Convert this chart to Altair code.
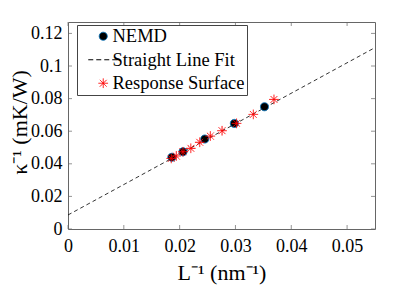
import altair as alt
import pandas as pd

# NEMD data
nemd_x = [0.0186, 0.0206, 0.0245, 0.0298, 0.0352]
nemd_y = [0.0440, 0.0474, 0.0552, 0.0648, 0.0750]
# Response surface data
rs_x = [0.0185, 0.0194, 0.0206, 0.0220, 0.0236, 0.0255, 0.0276, 0.0302, 0.0332, 0.0369]
rs_y = [0.0433, 0.0448, 0.0474, 0.0495, 0.0532, 0.0570, 0.0603, 0.0648, 0.0703, 0.0795]
# Straight line fit endpoints
fit_x = [0.0, 0.055]
fit_y = [0.0086, 0.1113]

x_ticks = [0, 0.01, 0.02, 0.03, 0.04, 0.05]
y_ticks = [0, 0.02, 0.04, 0.06, 0.08, 0.1, 0.12]

series = ["NEMD", "Straight Line Fit", "Response Surface"]
star = "M-1.2,0L1.2,0M0,-1.2L0,1.2M-0.85,-0.85L0.85,0.85M-0.85,0.85L0.85,-0.85"
line_sym = "M-3.75,0L3.75,0"

W, H = 307, 207
FONT = "Liberation Serif"
FRAME = "#666666"

pts = pd.DataFrame(
    {"x": nemd_x + rs_x, "y": nemd_y + rs_y,
     "s": ["NEMD"] * len(nemd_x) + ["Response Surface"] * len(rs_x)}
)
fit = pd.DataFrame({"x": fit_x, "y": fit_y})
xt = pd.DataFrame({"v": x_ticks})
yt = pd.DataFrame({"v": y_ticks})

xs = alt.Scale(domain=[0, 0.055], nice=False, zero=False)
ys = alt.Scale(domain=[0, 0.127], nice=False, zero=False)

common = dict(grid=False, ticks=False, domain=False,
              labelOverlap=False, labelFlush=False, labelBound=False,
              labelFont=FONT, labelFontSize=18, labelColor="black",
              titleFont=FONT, titleFontSize=22, titleFontWeight="normal", titleColor="black",
              titleBaseline="middle")
xaxis = alt.Axis(values=x_ticks, format="~g", labelPadding=8,
                 title="L⁻¹  (nm⁻¹)", titleY=43, **common)
yaxis = alt.Axis(values=y_ticks, format="~g", labelPadding=6,
                 title="κ⁻¹  (mK/W)", titleX=-49, titleY=100, **common)

line = alt.Chart(fit).mark_line(color="black", strokeDash=[4, 3], strokeWidth=0.8).encode(
    x=alt.X("x:Q", scale=xs, axis=xaxis),
    y=alt.Y("y:Q", scale=ys, axis=yaxis),
)

legend = alt.Legend(
    title=None, orient="none", legendX=9, legendY=3,
    strokeColor="#444444", fillColor="white", padding=2,
    labelFont=FONT, labelFontSize=18.5, labelColor="black", labelOffset=0,
    symbolOffset=15, symbolSize=64, symbolStrokeWidth=1, rowPadding=4.5, cornerRadius=0,
)

points = alt.Chart(pts).mark_point(size=64, strokeWidth=1, opacity=1).encode(
    x=alt.X("x:Q", scale=xs, axis=xaxis),
    y=alt.Y("y:Q", scale=ys, axis=yaxis),
    shape=alt.Shape("s:N", scale=alt.Scale(domain=series, range=["circle", line_sym, star]), legend=legend),
    fill=alt.Fill("s:N", scale=alt.Scale(domain=series, range=["black", "transparent", "transparent"]), legend=legend),
    stroke=alt.Stroke("s:N", scale=alt.Scale(domain=series, range=["#0072BD", "black", "red"]), legend=legend),
    strokeDash=alt.StrokeDash("s:N", scale=alt.Scale(domain=series, range=[[1, 0], [5, 3], [1, 0]]), legend=legend),
)

tick_style = dict(color=FRAME, thickness=1, size=4)
xb = alt.Chart(xt).mark_tick(orient="vertical", **tick_style).encode(
    x=alt.X("v:Q", scale=xs, axis=xaxis), y=alt.value(H - 2))
xtp = alt.Chart(xt).mark_tick(orient="vertical", **tick_style).encode(
    x=alt.X("v:Q", scale=xs, axis=xaxis), y=alt.value(2))
yl = alt.Chart(yt).mark_tick(orient="horizontal", **tick_style).encode(
    y=alt.Y("v:Q", scale=ys, axis=yaxis), x=alt.value(2))
yr = alt.Chart(yt).mark_tick(orient="horizontal", **tick_style).encode(
    y=alt.Y("v:Q", scale=ys, axis=yaxis), x=alt.value(W - 2))

chart = alt.layer(line, xb, xtp, yl, yr, points).properties(
    width=W, height=H, background="white",
    autosize=alt.AutoSizeParams(type="none"),
    padding={"left": 60, "top": 14, "right": 24, "bottom": 57},
).configure_view(stroke=FRAME, strokeWidth=1).configure_axis(labelOverlap=False)

chart.save("out.html", embed_options={"renderer": "svg", "actions": False})
